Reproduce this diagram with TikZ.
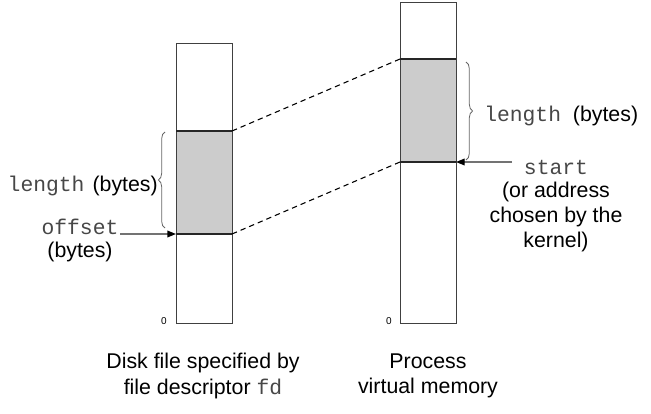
\documentclass[tikz,border=0pt]{standalone}
\usepackage{fontspec}
\setmainfont{Liberation Sans}
\setmonofont{Liberation Mono}
\usetikzlibrary{decorations.pathreplacing,arrows.meta}
\newcommand{\mono}[1]{{\color{black!72}\texttt{#1}}}
\begin{document}
\begin{tikzpicture}[x=0.75pt,y=-0.75pt,
  font=\fontsize{16}{19}\selectfont,
  col/.style={draw=black!75,line width=0.7pt},
  region/.style={fill=black!20},
  bound/.style={draw=black!85,line width=1.4pt},
  mapline/.style={draw=black,dashed,line width=0.8pt,dash pattern=on 4pt off 3pt},
  ptr/.style={draw=black!55,line width=1pt,-{Triangle[color=black,length=6.5pt,width=5pt]}},
  brc/.style={draw=black!60,line width=0.6pt,decorate,decoration={brace,amplitude=5pt}},
  zero/.style={font=\fontsize{7.5}{9}\selectfont},
  txt/.style={inner sep=0pt,align=center}]
\useasboundingbox (0,0) rectangle (651,414);
% left column (disk file)
\coordinate (ltl) at (176,43);
\coordinate (lbr) at (232,323);
\coordinate (ltop) at (176,131); \coordinate (ltopR) at (232,131);
\coordinate (lbot) at (176,234); \coordinate (lbotR) at (232,234);
\fill[region] (ltop) rectangle (lbotR);
\draw[col] (ltl) rectangle (lbr);
\draw[bound] (ltop) -- (ltopR);
\draw[bound] (lbot) -- (lbotR);
% right column (process memory)
\coordinate (rtl) at (400,2);
\coordinate (rbr) at (456,323);
\coordinate (rtop) at (400,59); \coordinate (rtopR) at (456,59);
\coordinate (rbot) at (400,162); \coordinate (rbotR) at (456,162);
\fill[region] (rtop) rectangle (rbotR);
\draw[col] (rtl) rectangle (rbr);
\draw[bound] (rtop) -- (rtopR);
\draw[bound] (rbot) -- (rbotR);
% mapping lines
\draw[mapline] (ltopR) -- (rtop);
\draw[mapline] (lbotR) -- (rbot);
% left brace and labels
\draw[brc] (165,228) -- (165,132);
\node[txt,anchor=east] (llen) at (158,186) {\mono{length}\hspace{6pt}(bytes)};
\node[txt] (off) at (80,227) {\mono{offset}};
\node[txt] (offb) at (80,252) {(bytes)};
\coordinate (offtail) at (120,234);
\draw[ptr] (offtail) -- (lbot);
% right brace and labels
\draw[brc] (466,62) -- (466,160);
\node[txt,anchor=west] (rlen) at (484,116) {\mono{length}\ \ (bytes)};
\node[txt] (st) at (556,167) {\mono{start}};
\node[txt] (stn) at (556,217) {(or address\\chosen by the\\kernel)};
\coordinate (sttail) at (512,162);
\draw[ptr] (sttail) -- (rbotR);
% zeros
\node[zero] (z1) at (164,321) {0};
\node[zero] (z2) at (389,321) {0};
% captions
\node[txt] (cap1) at (203,376) {Disk file specified by\\file descriptor \mono{fd}};
\node[txt] (cap2) at (428,376) {Process\\virtual memory};
\end{tikzpicture}
\end{document}
